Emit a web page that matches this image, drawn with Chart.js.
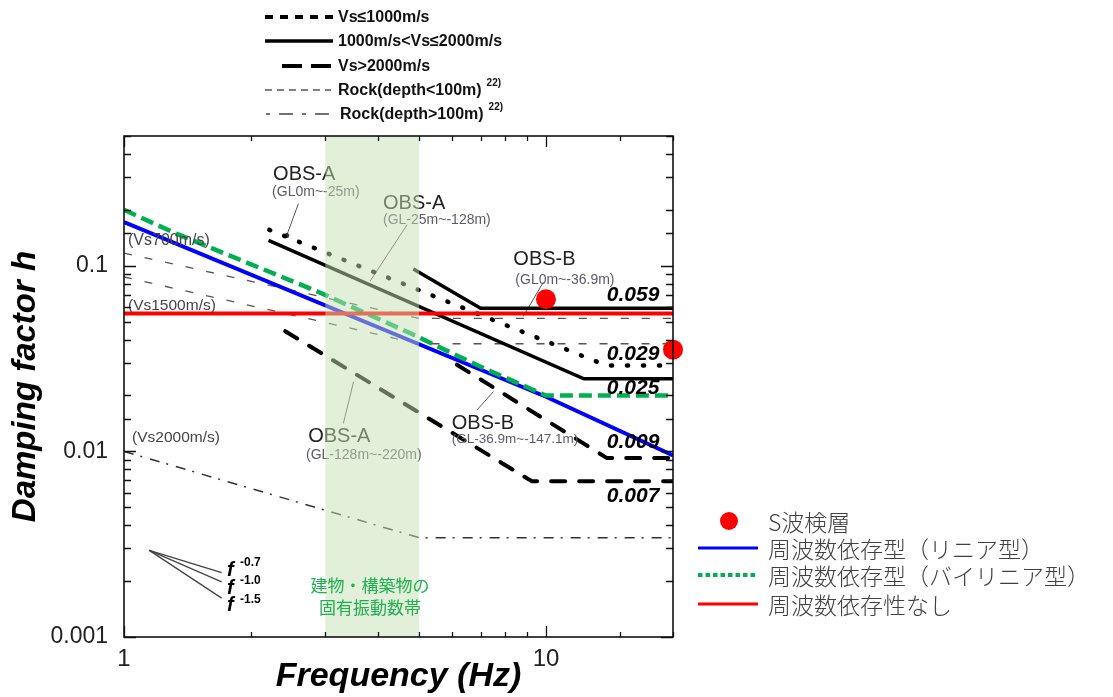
<!DOCTYPE html>
<html>
<head>
<meta charset="utf-8">
<script src="https://cdn.jsdelivr.net/npm/chart.js@4.4.0/dist/chart.umd.min.js"></script>
<style>
  body { margin: 0; background: #fff; }
  #wrap { position: relative; width: 1113px; height: 697px; overflow: hidden; }
  #chart { position: absolute; left: 0; top: 0; }
  .row { position: absolute; height: 20px; display: flex; align-items: center; white-space: nowrap; }
  .row svg { display: block; flex: none; }
  .top { font: bold 16px "Liberation Sans", Arial, sans-serif; color: #111; }
  .top sup { font-size: 10px; font-weight: bold; position: relative; top: -3px; margin-left: 5px; }
  .side { font: 300 23px "Noto Sans CJK JP", sans-serif; color: #404040; height: 28px; }
</style>
</head>
<body>
<div id="wrap">
  <canvas id="chart" width="1113" height="697"></canvas>

  <!-- style key at the top -->
  <div class="row top" style="left:265px; top:7px;">
    <svg width="73" height="20"><line x1="0" y1="10" x2="68" y2="10" stroke="#000" stroke-width="4" stroke-dasharray="8,7"/></svg>
    <span>Vs≤1000m/s</span>
  </div>
  <div class="row top" style="left:265px; top:31px;">
    <svg width="73" height="20"><line x1="0" y1="10" x2="68" y2="10" stroke="#000" stroke-width="3.5"/></svg>
    <span>1000m/s&lt;Vs≤2000m/s</span>
  </div>
  <div class="row top" style="left:265px; top:56px;">
    <svg width="73" height="20"><line x1="17" y1="10" x2="68" y2="10" stroke="#000" stroke-width="4" stroke-dasharray="20,9"/></svg>
    <span>Vs&gt;2000m/s</span>
  </div>
  <div class="row top" style="left:265px; top:80px;">
    <svg width="73" height="20"><line x1="0" y1="10" x2="66" y2="10" stroke="#555" stroke-width="1.3" stroke-dasharray="7,5"/></svg>
    <span>Rock(depth&lt;100m)<sup>22)</sup></span>
  </div>
  <div class="row top" style="left:265px; top:104px;">
    <svg width="75" height="20"><line x1="1" y1="10" x2="66" y2="10" stroke="#444" stroke-width="1.3" stroke-dasharray="4,9,14,9"/></svg>
    <span>Rock(depth&gt;100m)<sup>22)</sup></span>
  </div>

  <!-- series key at the right -->
  <div class="row side" style="left:698px; top:507px;">
    <svg width="70" height="28"><circle cx="31" cy="14" r="9" fill="#ff0000"/></svg>
    <span>S波検層</span>
  </div>
  <div class="row side" style="left:698px; top:534px;">
    <svg width="70" height="28"><line x1="0" y1="14" x2="60" y2="14" stroke="#0000ff" stroke-width="3"/></svg>
    <span>周波数依存型（リニア型）</span>
  </div>
  <div class="row side" style="left:698px; top:561px;">
    <svg width="70" height="28"><line x1="0" y1="14" x2="60" y2="14" stroke="#00b050" stroke-width="4" stroke-dasharray="4.5,3"/></svg>
    <span>周波数依存型（バイリニア型）</span>
  </div>
  <div class="row side" style="left:698px; top:590px;">
    <svg width="70" height="28"><line x1="0" y1="14" x2="60" y2="14" stroke="#ff0000" stroke-width="3"/></svg>
    <span>周波数依存性なし</span>
  </div>
</div>

<script>
const FONT = '"Liberation Sans", Arial, sans-serif';

// values (frequency in Hz, damping factor h)
const linearFreq = [1, 10, 20];
const linearH = [0.172, 0.0197, 0.0095];
const bilinearFreq = [1, 1.33, 2.9, 4.8, 6.9, 10, 20];
const bilinearH = [0.20, 0.149, 0.072, 0.043, 0.029, 0.020, 0.020];
const constFreq = [1, 20];
const constH = [0.0553, 0.0553];
const swaveFreq = [10, 20];
const swaveH = [0.066, 0.0353];

// OBS curves
const obsA1Freq = [2.21, 13.9, 20];   // GL0m~-25m  (Vs<=1000)
const obsA1H = [0.156, 0.029, 0.029];
const obsA2Freq = [2.2, 12.3, 20];    // GL-25m~-128m
const obsA2H = [0.137, 0.0246, 0.0246];
const obsB1Freq = [4.85, 7.0, 20];    // GL0m~-36.9m
const obsB1H = [0.096, 0.059, 0.059];
const obsA3Freq = [2.41, 9.26, 20];   // GL-128m~-220m
const obsA3H = [0.0444, 0.0069, 0.0069];
const obsB2Freq = [6.15, 13.95, 20];  // GL-36.9m~-147.1m
const obsB2H = [0.0293, 0.0092, 0.0092];

// rock curves
const rockFreq = [1, 5, 20];
const rock700H = [0.117, 0.052, 0.052];
const rock1500H = [0.087, 0.038, 0.038];
const rock2000H = [0.010, 0.00343, 0.00343];

// slope key f^-0.7 / -1.0 / -1.5
const slopeFreq = [1.148, 1.704];
const slope07H = [0.00293, 0.00222];
const slope10H = [0.00293, 0.00198];
const slope15H = [0.00293, 0.00162];

// leader lines from labels
const leadA1Freq = [2.59, 2.43], leadA1H = [0.216, 0.1456];
const leadA2Freq = [4.69, 3.83], leadA2H = [0.1665, 0.0826];
const leadB1Freq = [9.86, 8.83], leadB1H = [0.0816, 0.0533];
const leadB2Freq = [6.86, 7.51], leadB2H = [0.01669, 0.0210];
const leadA3Freq = [3.31, 3.50], leadA3H = [0.01414, 0.02377];

const bandFreq = [3, 5];
const xTickLabels = [1, 10];
const yTickLabels = [0.001, 0.01, 0.1];

function pts(fs, hs) {
  return fs.map((f, i) => ({x: f, y: hs[i]}));
}

function line(fs, hs, style) {
  return Object.assign({
    data: pts(fs, hs),
    showLine: true,
    pointRadius: 0,
    fill: false,
    tension: 0
  }, style);
}

const thin = {borderColor: '#555', borderWidth: 1};

const datasets = [
  {data: pts(swaveFreq, swaveH), pointRadius: 10, pointBackgroundColor: '#ff0000', pointBorderWidth: 0, clip: false},
  line(constFreq, constH, {borderColor: '#ff0000', borderWidth: 4}),
  line(bilinearFreq, bilinearH, {borderColor: '#00b050', borderWidth: 4.5, borderDash: [13, 6]}),
  line(linearFreq, linearH, {borderColor: '#0000ff', borderWidth: 4}),
  line(obsA1Freq, obsA1H, {borderColor: '#000', borderWidth: 4.5, borderDash: [1, 15], borderCapStyle: 'round'}),
  line(obsA2Freq, obsA2H, {borderColor: '#000', borderWidth: 3.5}),
  line(obsB1Freq, obsB1H, {borderColor: '#000', borderWidth: 3.5}),
  line(obsA3Freq, obsA3H, {borderColor: '#000', borderWidth: 4, borderDash: [14, 14], borderCapStyle: 'round'}),
  line(obsB2Freq, obsB2H, {borderColor: '#000', borderWidth: 4, borderDash: [14, 14], borderCapStyle: 'round'}),
  line(rockFreq, rock700H, {borderColor: '#555', borderWidth: 1.3, borderDash: [8, 13]}),
  line(rockFreq, rock1500H, {borderColor: '#555', borderWidth: 1.3, borderDash: [8, 13]}),
  line(rockFreq, rock2000H, {borderColor: '#333', borderWidth: 1.5, borderDash: [10, 7, 2, 8]}),
  line(slopeFreq, slope07H, {borderColor: '#444', borderWidth: 1.3}),
  line(slopeFreq, slope10H, {borderColor: '#444', borderWidth: 1.3}),
  line(slopeFreq, slope15H, {borderColor: '#444', borderWidth: 1.3}),
  line(leadA1Freq, leadA1H, Object.assign({pointRadius: [0, 2.5], pointBackgroundColor: '#333', pointBorderWidth: 0}, thin)),
  line(leadA2Freq, leadA2H, thin),
  line(leadB1Freq, leadB1H, thin),
  line(leadB2Freq, leadB2H, thin),
  line(leadA3Freq, leadA3H, thin)
];

// text placed in data space: [text, freq, h, size, style, color, align]
const notes = [
  ['OBS-A', 2.256, 0.31, 20, '', '#222', 'left'],
  ['(GL0m~-25m)', 2.244, 0.248, 14, '', '#5b5b66', 'left'],
  ['OBS-A', 4.11, 0.216, 20, '', '#222', 'left'],
  ['(GL-25m~-128m)', 4.11, 0.175, 14, '', '#5b5b66', 'left'],
  ['OBS-B', 8.37, 0.1087, 20, '', '#222', 'left'],
  ['(GL0m~-36.9m)', 8.46, 0.0841, 14, '', '#5b5b66', 'left'],
  ['OBS-B', 5.98, 0.01419, 20, '', '#222', 'left'],
  ['(GL-36.9m~-147.1m)', 5.98, 0.01161, 13.5, '', '#5b5b66', 'left'],
  ['OBS-A', 2.732, 0.01206, 20, '', '#222', 'left'],
  ['(GL-128m~-220m)', 2.70, 0.0095, 14, '', '#5b5b66', 'left'],
  ['(Vs700m/s)', 1.022, 0.136, 16, '', '#444', 'left'],
  ['(Vs1500m/s)', 1.022, 0.0612, 15.5, '', '#444', 'left'],
  ['(Vs2000m/s)', 1.045, 0.0119, 15.5, '', '#444', 'left'],
  ['0.059', 18.56, 0.0693, 21, 'italic bold', '#000', 'right'],
  ['0.029', 18.56, 0.0332, 21, 'italic bold', '#000', 'right'],
  ['0.025', 18.56, 0.0220, 21, 'italic bold', '#000', 'right'],
  ['0.009', 18.56, 0.01119, 21, 'italic bold', '#000', 'right'],
  ['0.007', 18.56, 0.00577, 21, 'italic bold', '#000', 'right'],
  ['f', 1.755, 0.00229, 20, 'italic bold', '#000', 'left'],
  ['f', 1.755, 0.00183, 20, 'italic bold', '#000', 'left'],
  ['f', 1.755, 0.00148, 20, 'italic bold', '#000', 'left'],
  ['-0.7', 1.884, 0.0025, 12, 'bold', '#000', 'left'],
  ['-1.0', 1.884, 0.0020, 12, 'bold', '#000', 'left'],
  ['-1.5', 1.884, 0.00159, 12, 'bold', '#000', 'left']
];

const bandNotes = [
  ['建物・構築物の', 3.83, 0.0019],
  ['固有振動数帯', 3.83, 0.00144]
];

function isDecade(v) {
  const l = Math.log10(v);
  return Math.abs(l - Math.round(l)) < 1e-6;
}

const extras = {
  id: 'extras',
  afterDatasetsDraw(chart) {
    const {ctx, chartArea: a} = chart;
    const xs = chart.scales.x, ys = chart.scales.y;
    ctx.save();
    ctx.textBaseline = 'middle';
    notes.forEach(n => {
      ctx.font = `${n[4]} ${n[3]}px ${FONT}`;
      ctx.fillStyle = n[5];
      ctx.textAlign = n[6];
      ctx.fillText(n[0], xs.getPixelForValue(n[1]), ys.getPixelForValue(n[2]));
    });
    // building natural frequency band
    const x0 = xs.getPixelForValue(bandFreq[0]);
    const x1 = xs.getPixelForValue(bandFreq[1]);
    ctx.fillStyle = 'rgba(198,224,180,0.5)';
    ctx.fillRect(x0, a.top, x1 - x0, a.bottom - a.top);
    ctx.font = '17px "Noto Sans CJK JP", sans-serif';
    ctx.fillStyle = '#1fb050';
    ctx.textAlign = 'center';
    bandNotes.forEach(n => {
      ctx.fillText(n[0], xs.getPixelForValue(n[1]), ys.getPixelForValue(n[2]));
    });
    ctx.restore();
  },
  afterDraw(chart) {
    const {ctx, chartArea: a} = chart;
    const xs = chart.scales.x, ys = chart.scales.y;
    ctx.save();
    ctx.strokeStyle = '#111';
    ctx.lineWidth = 1.3;
    ctx.beginPath();
    xs.ticks.forEach(t => {
      const px = Math.round(xs.getPixelForValue(t.value)) + 0.5;
      const len = isDecade(t.value) ? 11 : 5;
      ctx.moveTo(px, a.bottom); ctx.lineTo(px, a.bottom - len);
      ctx.moveTo(px, a.top); ctx.lineTo(px, a.top + len);
    });
    ys.ticks.forEach(t => {
      const py = Math.round(ys.getPixelForValue(t.value)) + 0.5;
      const len = isDecade(t.value) ? 12 : 7;
      ctx.moveTo(a.left, py); ctx.lineTo(a.left + len, py);
      ctx.moveTo(a.right, py); ctx.lineTo(a.right - len, py);
    });
    ctx.stroke();
    ctx.lineWidth = 1.6;
    ctx.strokeRect(a.left, a.top, a.right - a.left, a.bottom - a.top);
    ctx.restore();
  }
};

new Chart(document.getElementById('chart'), {
  type: 'scatter',
  data: {datasets: datasets},
  plugins: [extras],
  options: {
    responsive: false,
    animation: false,
    layout: {padding: {left: 0, right: 440, top: 136, bottom: 0}},
    plugins: {legend: {display: false}, tooltip: {enabled: false}},
    scales: {
      x: {
        type: 'logarithmic',
        min: 1,
        max: 20,
        afterFit: s => { s.height = 60; },
        grid: {display: false, drawTicks: false},
        border: {display: false},
        ticks: {
          autoSkip: false,
          maxRotation: 0,
          padding: 8,
          color: '#222',
          font: {family: FONT, size: 24},
          callback: v => xTickLabels.includes(v) ? String(v) : ''
        },
        title: {
          display: true,
          text: 'Frequency (Hz)',
          color: '#000',
          font: {family: FONT, size: 34, style: 'italic', weight: 'bold'},
          padding: {top: 0, bottom: 0}
        }
      },
      y: {
        type: 'logarithmic',
        min: 0.001,
        max: 0.5,
        afterFit: s => { s.width = 124; },
        grid: {display: false, drawTicks: false},
        border: {display: false},
        ticks: {
          autoSkip: false,
          padding: 16,
          color: '#222',
          font: {family: FONT, size: 23},
          callback: v => yTickLabels.some(t => Math.abs(t - v) < 1e-9) ? String(v) : ''
        },
        title: {
          display: true,
          text: 'Damping factor h',
          color: '#000',
          font: {family: FONT, size: 33, style: 'italic', weight: 'bold'},
          padding: {top: 6, bottom: 0}
        }
      }
    }
  }
});
</script>
</body>
</html>
